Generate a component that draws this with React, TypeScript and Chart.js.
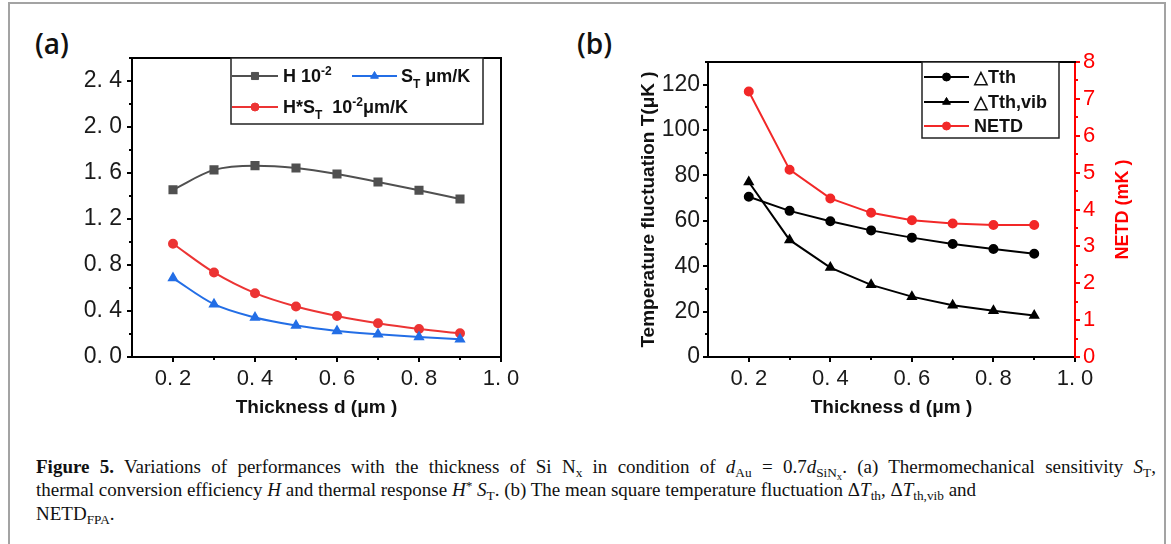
import React, { useEffect, useRef } from 'react';
import { Chart, registerables } from 'chart.js';

Chart.register(...registerables);

// ---------- data ----------
const thickness = [0.2, 0.3, 0.4, 0.5, 0.6, 0.7, 0.8, 0.9];
const hEfficiency = [1.455, 1.627, 1.664, 1.644, 1.592, 1.522, 1.45, 1.374];
const sensitivity = [0.686, 0.459, 0.343, 0.273, 0.227, 0.198, 0.174, 0.154];
const thermalResponse = [0.985, 0.735, 0.555, 0.439, 0.357, 0.293, 0.244, 0.206];
const deltaTth = [70.6, 64.4, 59.8, 55.8, 52.6, 49.8, 47.6, 45.5];
const deltaTthVib = [77.1, 51.6, 39.4, 31.8, 26.6, 22.8, 20.4, 18.3];
const netd = [7.2, 5.08, 4.3, 3.91, 3.71, 3.62, 3.58, 3.58];

const xTicks = [0.2, 0.4, 0.6, 0.8, 1.0];
const xMinorTicks = [0.3, 0.5, 0.7, 0.9];
const yTicksA = [0, 0.4, 0.8, 1.2, 1.6, 2.0, 2.4];
const yMinorTicksA = [0.2, 0.6, 1.0, 1.4, 1.8, 2.2, 2.6];
const yTicksB = [0, 20, 40, 60, 80, 100, 120];
const yMinorTicksB = [10, 30, 50, 70, 90, 110, 130];
const netdTicks = [0, 1, 2, 3, 4, 5, 6, 7, 8];
const netdMinorTicks = [0.5, 1.5, 2.5, 3.5, 4.5, 5.5, 6.5, 7.5];

// ---------- styles ----------
const SANS = '"Liberation Sans", Arial, sans-serif';
const GRAY = 'rgb(80,80,80)';
const BLUE = 'rgb(35,110,230)';
const RED_A = 'rgb(236,52,52)';
const RED_B = 'rgb(242,40,40)';
const AXIS_RED = 'rgb(255,0,0)';

Chart.defaults.font.family = SANS;

const fmt1 = (v: number) => v.toFixed(1).replace('.', '. ');

type Seg = { t: string; s?: 'sub' | 'sup' };

function drawRich(ctx: CanvasRenderingContext2D, segs: Seg[], x: number, baseline: number, size: number, color: string) {
  let cx = x;
  for (const seg of segs) {
    const fs = seg.s ? Math.round(size * 0.68) : size;
    ctx.font = `bold ${fs}px ${SANS}`;
    const dy = seg.s === 'sub' ? size * 0.28 : seg.s === 'sup' ? -size * 0.42 : 0;
    ctx.fillStyle = color;
    ctx.textBaseline = 'alphabetic';
    ctx.textAlign = 'left';
    ctx.fillText(seg.t, cx, baseline + dy);
    cx += ctx.measureText(seg.t).width;
  }
}

function drawMarker(ctx: CanvasRenderingContext2D, style: string, x: number, y: number, r: number, color: string) {
  ctx.save();
  ctx.fillStyle = color;
  ctx.strokeStyle = color;
  ctx.lineWidth = 1;
  ctx.beginPath();
  if (style === 'rect') {
    const s = Math.SQRT1_2 * r;
    ctx.rect(x - s, y - s, 2 * s, 2 * s);
  } else if (style === 'triangle') {
    ctx.moveTo(x, y - r);
    ctx.lineTo(x + r * Math.sin((2 * Math.PI) / 3), y - r * Math.cos((2 * Math.PI) / 3));
    ctx.lineTo(x + r * Math.sin((4 * Math.PI) / 3), y - r * Math.cos((4 * Math.PI) / 3));
    ctx.closePath();
  } else {
    ctx.arc(x, y, r, 0, Math.PI * 2);
  }
  ctx.fill();
  ctx.stroke();
  ctx.restore();
}

type LegendItem = { x1: number; x2: number; y: number; textX: number; color: string; style: string; r: number; segs: Seg[] };
type LegendSpec = { id: string; box: [number, number, number, number]; size: number; items: LegendItem[] };

function makeLegend(spec: LegendSpec) {
  return {
    id: spec.id,
    afterDraw(chart: any) {
      const ctx: CanvasRenderingContext2D = chart.ctx;
      const [l, t, r, b] = spec.box;
      ctx.save();
      ctx.fillStyle = '#fff';
      ctx.fillRect(l, t, r - l, b - t);
      ctx.strokeStyle = '#222';
      ctx.lineWidth = 1.5;
      ctx.strokeRect(l, t, r - l, b - t);
      for (const it of spec.items) {
        ctx.strokeStyle = it.color;
        ctx.lineWidth = 2;
        ctx.beginPath();
        ctx.moveTo(it.x1, it.y);
        ctx.lineTo(it.x2, it.y);
        ctx.stroke();
        drawMarker(ctx, it.style, (it.x1 + it.x2) / 2, it.y, it.r, it.color);
        drawRich(ctx, it.segs, it.textX, it.y + spec.size * 0.36, spec.size, '#111');
      }
      ctx.restore();
    },
  };
}

type MinorSpec = { scale: string; values: number[]; color: string };
function makeMinor(id: string, specs: MinorSpec[]) {
  return {
    id,
    afterDraw(chart: any) {
      const ctx: CanvasRenderingContext2D = chart.ctx;
      ctx.save();
      ctx.lineWidth = 2;
      for (const m of specs) {
        const s = chart.scales[m.scale];
        ctx.strokeStyle = m.color;
        for (const v of m.values) {
          const p = Math.round(s.getPixelForValue(v));
          ctx.beginPath();
          if (s.isHorizontal()) {
            ctx.moveTo(p, s.top);
            ctx.lineTo(p, s.top + 3);
          } else if (s.position === 'left') {
            ctx.moveTo(s.right, p);
            ctx.lineTo(s.right - 3, p);
          } else {
            ctx.moveTo(s.left, p);
            ctx.lineTo(s.left + 3, p);
          }
          ctx.stroke();
        }
      }
      ctx.restore();
    },
  };
}

function makeFrame(id: string, drawRight: boolean) {
  return {
    id,
    afterDatasetsDraw(chart: any) {
      const { ctx, chartArea } = chart;
      ctx.save();
      ctx.strokeStyle = '#000';
      ctx.lineWidth = 2;
      ctx.beginPath();
      ctx.moveTo(chartArea.left - 1, chartArea.top);
      ctx.lineTo(chartArea.right + 1, chartArea.top);
      if (drawRight) {
        ctx.moveTo(chartArea.right, chartArea.top);
        ctx.lineTo(chartArea.right, chartArea.bottom);
      }
      ctx.stroke();
      ctx.restore();
    },
  };
}

const netdTitle = {
  id: 'netdTitle',
  afterDraw(chart: any) {
    const { ctx, chartArea } = chart;
    ctx.save();
    ctx.translate(563, (chartArea.top + chartArea.bottom) / 2);
    ctx.rotate(-Math.PI / 2);
    ctx.font = `bold 18px ${SANS}`;
    ctx.fillStyle = AXIS_RED;
    ctx.textAlign = 'center';
    ctx.textBaseline = 'middle';
    ctx.fillText('NETD (mK )', 0, 0);
    ctx.restore();
  },
};

const pts = (ys: number[]) => thickness.map((x, i) => ({ x, y: ys[i] }));

function xScale(height: number) {
  return {
    type: 'linear',
    position: 'bottom',
    min: 0.1,
    max: 1.0,
    afterBuildTicks: (s: any) => {
      s.ticks = xTicks.map((v) => ({ value: v }));
    },
    afterFit: (s: any) => {
      s.height = height;
    },
    grid: { display: true, drawOnChartArea: false, drawTicks: true, tickLength: 5, color: '#000', lineWidth: 2 },
    border: { display: true, color: '#000', width: 2 },
    ticks: { font: { size: 22, family: SANS }, color: '#1a1a1a', padding: 4, maxRotation: 0, autoSkip: false, callback: (v: any) => fmt1(Number(v)) },
    title: { display: true, text: 'Thickness d (μm )', font: { size: 19, weight: 'bold', family: SANS }, color: '#111', padding: { top: 0, bottom: 11 } },
  };
}

const configA: any = {
  type: 'line',
  data: {
    datasets: [
      { label: 'H', data: pts(hEfficiency), borderColor: GRAY, backgroundColor: GRAY, pointStyle: 'rect', pointRadius: 5, borderWidth: 2, cubicInterpolationMode: 'monotone' },
      { label: 'ST', data: pts(sensitivity), borderColor: BLUE, backgroundColor: BLUE, pointStyle: 'triangle', pointRadius: 4.5, borderWidth: 2, cubicInterpolationMode: 'monotone' },
      { label: 'H*ST', data: pts(thermalResponse), borderColor: RED_A, backgroundColor: RED_A, pointStyle: 'circle', pointRadius: 4, borderWidth: 2, cubicInterpolationMode: 'monotone' },
    ],
  },
  options: {
    animation: false,
    responsive: false,
    devicePixelRatio: 1,
    layout: { padding: { left: 0, top: 58, right: 59, bottom: 0 } },
    plugins: { legend: { display: false }, tooltip: { enabled: false } },
    scales: {
      x: xScale(73),
      y: {
        type: 'linear',
        position: 'left',
        min: 0,
        max: 2.6,
        afterBuildTicks: (s: any) => {
          s.ticks = yTicksA.map((v) => ({ value: v }));
        },
        afterFit: (s: any) => {
          s.width = 132;
        },
        grid: { display: true, drawOnChartArea: false, drawTicks: true, tickLength: 5, color: '#000', lineWidth: 2 },
        border: { display: true, color: '#000', width: 2 },
        ticks: { font: { size: 23, family: SANS }, color: '#1a1a1a', padding: 5, callback: (v: any) => fmt1(Number(v)) },
      },
    },
  },
  plugins: [
    makeFrame('frameA', true),
    makeMinor('minorA', [
      { scale: 'x', values: xMinorTicks, color: '#000' },
      { scale: 'y', values: yMinorTicksA, color: '#000' },
    ]),
    makeLegend({
      id: 'legendA',
      box: [231, 58, 483, 124],
      size: 18,
      items: [
        { x1: 232, x2: 278, y: 76, textX: 283, color: GRAY, style: 'rect', r: 5, segs: [{ t: 'H 10' }, { t: '-2', s: 'sup' }] },
        { x1: 352, x2: 397, y: 76, textX: 401, color: BLUE, style: 'triangle', r: 4.5, segs: [{ t: 'S' }, { t: 'T', s: 'sub' }, { t: ' μm/K' }] },
        { x1: 232, x2: 278, y: 107, textX: 283, color: RED_A, style: 'circle', r: 4, segs: [{ t: 'H*S' }, { t: 'T', s: 'sub' }, { t: '  10' }, { t: '-2', s: 'sup' }, { t: 'μm/K' }] },
      ],
    }),
  ],
};

const configB: any = {
  type: 'line',
  data: {
    datasets: [
      { label: 'dTth', data: pts(deltaTth), yAxisID: 'y', borderColor: '#000', backgroundColor: '#000', pointStyle: 'circle', pointRadius: 4, borderWidth: 2, tension: 0 },
      { label: 'dTthvib', data: pts(deltaTthVib), yAxisID: 'y', borderColor: '#000', backgroundColor: '#000', pointStyle: 'triangle', pointRadius: 4.5, borderWidth: 2, tension: 0 },
      { label: 'NETD', data: pts(netd), yAxisID: 'y1', borderColor: RED_B, backgroundColor: RED_B, pointStyle: 'circle', pointRadius: 4, borderWidth: 2, tension: 0 },
    ],
  },
  options: {
    animation: false,
    responsive: false,
    devicePixelRatio: 1,
    layout: { padding: { left: 0, top: 62, right: 0, bottom: 0 } },
    plugins: { legend: { display: false }, tooltip: { enabled: false } },
    scales: {
      x: xScale(73),
      y: {
        type: 'linear',
        position: 'left',
        min: 0,
        max: 130,
        afterBuildTicks: (s: any) => {
          s.ticks = yTicksB.map((v) => ({ value: v }));
        },
        afterFit: (s: any) => {
          s.width = 148;
        },
        grid: { display: true, drawOnChartArea: false, drawTicks: true, tickLength: 5, color: '#000', lineWidth: 2 },
        border: { display: true, color: '#000', width: 2 },
        ticks: { font: { size: 23, family: SANS }, color: '#1a1a1a', padding: 3 },
        title: { display: true, text: 'Temperature fluctuation T(μK )', font: { size: 19, weight: 'bold', family: SANS }, color: '#111', padding: { top: 77, bottom: 0 } },
      },
      y1: {
        type: 'linear',
        position: 'right',
        min: 0,
        max: 8,
        afterBuildTicks: (s: any) => {
          s.ticks = netdTicks.map((v) => ({ value: v }));
        },
        afterFit: (s: any) => {
          s.width = 96;
        },
        grid: { display: true, drawOnChartArea: false, drawTicks: true, tickLength: 5, color: AXIS_RED, lineWidth: 2 },
        border: { display: true, color: AXIS_RED, width: 2 },
        ticks: { font: { size: 22, family: SANS }, color: AXIS_RED, padding: 3 },
      },
    },
  },
  plugins: [
    makeFrame('frameB', false),
    makeMinor('minorB', [
      { scale: 'x', values: xMinorTicks, color: '#000' },
      { scale: 'y', values: yMinorTicksB, color: '#000' },
      { scale: 'y1', values: netdMinorTicks, color: AXIS_RED },
    ]),
    netdTitle,
    makeLegend({
      id: 'legendB',
      box: [362, 62, 499, 138],
      size: 18,
      items: [
        { x1: 364, x2: 409, y: 77, textX: 414, color: '#000', style: 'circle', r: 4, segs: [{ t: '△Tth' }] },
        { x1: 364, x2: 409, y: 102, textX: 414, color: '#000', style: 'triangle', r: 4.5, segs: [{ t: '△Tth,vib' }] },
        { x1: 364, x2: 409, y: 126, textX: 414, color: RED_B, style: 'circle', r: 4, segs: [{ t: 'NETD' }] },
      ],
    }),
  ],
};

const sub: React.CSSProperties = { fontSize: '0.7em', verticalAlign: '-0.3em', lineHeight: 0 };
const sup: React.CSSProperties = { fontSize: '0.7em', verticalAlign: '0.45em', lineHeight: 0 };

export default function App() {
  const refA = useRef<HTMLCanvasElement>(null);
  const refB = useRef<HTMLCanvasElement>(null);

  useEffect(() => {
    const a = new Chart(refA.current as HTMLCanvasElement, configA);
    const b = new Chart(refB.current as HTMLCanvasElement, configB);
    return () => {
      a.destroy();
      b.destroy();
    };
  }, []);

  const panelLabel: React.CSSProperties = {
    position: 'absolute',
    top: 29,
    fontFamily: '"Open Sans", "Noto Sans", sans-serif',
    fontSize: 28,
    fontWeight: 600,
    lineHeight: 1,
    color: '#111',
  };

  const captionLine: React.CSSProperties = {
    height: '23.3px',
    lineHeight: '23.3px',
    whiteSpace: 'nowrap',
  };

  return (
    <div style={{ position: 'fixed', left: 0, top: 0, width: 1171, height: 544, overflow: 'hidden', background: '#fff' }}>
      <div style={{ position: 'absolute', left: 8, top: 2, width: 1154, height: 600, border: '2px solid #a3a3a3' }} />
      <div style={{ ...panelLabel, left: 35 }}>(a)</div>
      <div style={{ ...panelLabel, left: 577 }}>(b)</div>
      <canvas ref={refA} width={560} height={430} style={{ position: 'absolute', left: 0, top: 0, width: 560, height: 430 }} />
      <canvas ref={refB} width={611} height={430} style={{ position: 'absolute', left: 560, top: 0, width: 611, height: 430 }} />
      <div
        style={{
          position: 'absolute',
          left: 36,
          top: 455,
          width: 1120,
          fontFamily: '"Liberation Serif", "Times New Roman", serif',
          fontSize: 19,
          color: '#111',
        }}
      >
        <div style={{ ...captionLine, whiteSpace: 'normal', textAlign: 'justify', textAlignLast: 'justify' as any }}>
          <b>Figure 5.</b> Variations of performances with the thickness of Si N<span style={sub}>x</span> in condition of{' '}
          <i>d</i>
          <span style={sub}>Au</span> = 0.7<i>d</i>
          <span style={sub}>
            SiN<span style={{ fontSize: '0.8em', verticalAlign: '-0.25em' }}>x</span>
          </span>
          . (a) Thermomechanical sensitivity <i>S</i>
          <span style={sub}>T</span>,
        </div>
        <div style={captionLine}>
          thermal conversion efficiency <i>H</i> and thermal response <i>H</i>
          <span style={sup}>*</span> <i>S</i>
          <span style={sub}>T</span>. (b) The mean square temperature fluctuation Δ<i>T</i>
          <span style={sub}>th</span>, Δ<i>T</i>
          <span style={sub}>th,vib</span> and
        </div>
        <div style={captionLine}>
          NETD<span style={sub}>FPA</span>.
        </div>
      </div>
    </div>
  );
}
